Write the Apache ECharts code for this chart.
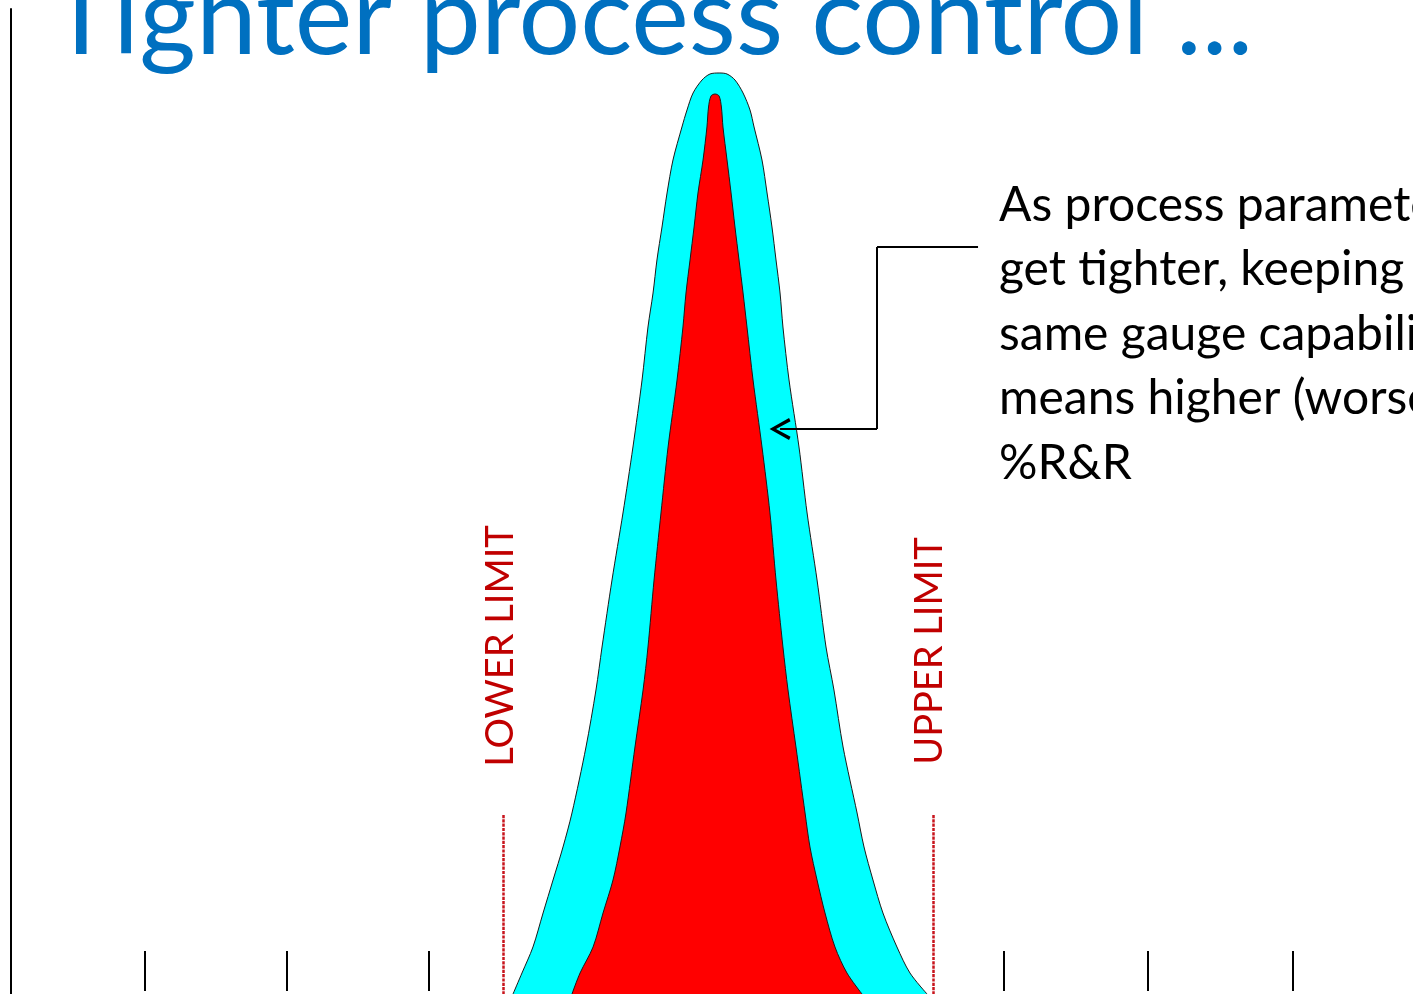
<!DOCTYPE html>
<html lang="en">
<head>
    <meta charset="UTF-8">
    <title>Tighter process control</title>
    <script src="https://cdn.jsdelivr.net/npm/echarts@6/dist/echarts.min.js"></script>
    <style>
        html, body { margin: 0; padding: 0; background: #fff; }
        #main { width: 1413px; height: 994px; }
    </style>
</head>
<body>
    <div id="main"></div>
    <script type="text/javascript">
        // x in sigma-like units (0 = centre tick), y = curve height
        var outerCurve = [
            [-1.384, 0], [-1.322, 2.1], [-1.246, 4.7], [-1.176, 8.1], [-1.107, 11.4],
            [-1.038, 14.7], [-0.976, 18.1], [-0.879, 24.7], [-0.810, 30.4], [-0.768, 34.7],
            [-0.699, 41.4], [-0.623, 48.1], [-0.554, 54.7], [-0.491, 61.4], [-0.450, 66.7],
            [-0.415, 70.1], [-0.388, 73.4], [-0.353, 76.7], [-0.318, 80.1], [-0.277, 83.4],
            [-0.215, 86.7], [-0.180, 88.4], [-0.138, 90.1], [-0.076, 91.4], [-0.021, 92.0],
            [0.042, 92.1], [0.097, 92.0], [0.152, 91.4], [0.208, 90.1], [0.256, 88.4],
            [0.284, 86.7], [0.339, 83.4], [0.374, 80.1], [0.408, 76.7], [0.436, 73.4],
            [0.464, 70.1], [0.484, 66.7], [0.526, 61.4], [0.595, 54.7], [0.651, 48.1],
            [0.720, 41.4], [0.782, 34.7], [0.837, 30.4], [0.900, 24.7], [0.997, 18.1],
            [1.045, 14.7], [1.107, 11.4], [1.176, 8.1], [1.273, 4.7], [1.363, 2.1],
            [1.481, 0]
        ];
        var innerCurve = [
            [-0.976, 0], [-0.920, 2.1], [-0.830, 4.7], [-0.761, 8.1], [-0.692, 11.4],
            [-0.644, 14.7], [-0.602, 18.1], [-0.540, 24.7], [-0.484, 30.4], [-0.450, 34.7],
            [-0.408, 41.4], [-0.360, 48.1], [-0.311, 54.7], [-0.249, 61.4], [-0.208, 66.7],
            [-0.187, 70.1], [-0.159, 73.4], [-0.131, 76.7], [-0.104, 80.1], [-0.069, 83.4],
            [-0.042, 86.7], [-0.031, 88.7], [-0.014, 89.8], [0.014, 90.0], [0.042, 89.8],
            [0.058, 88.7], [0.069, 86.7],
            [0.097, 83.4], [0.125, 80.1], [0.152, 76.7], [0.180, 73.4], [0.208, 70.1],
            [0.235, 66.7], [0.277, 61.4], [0.339, 54.7], [0.394, 48.1], [0.436, 41.4],
            [0.484, 34.7], [0.519, 30.4], [0.574, 24.7], [0.637, 18.1], [0.671, 14.7],
            [0.720, 11.4], [0.775, 8.1], [0.844, 4.7], [0.927, 2.1], [1.031, 0]
        ];
        var tickValues = [-3.93, -2.95, -1.97, -0.99, 0, 1.0, 2.01, 3.01, 4.01];
        var lowerLimit = -1.455;
        var upperLimit = 1.522;
        var limitLineTop = 17.9;
        var limitLabels = [
            { name: 'LOWER LIMIT', coord: [-1.467, 34.8] },
            { name: 'UPPER LIMIT', coord: [1.502, 34.3] }
        ];
        var calloutPath = [[1.834, 74.7], [1.135, 74.7], [1.135, 56.5], [0.464, 56.5]];
        var calloutText = 'As process parameters\nget tighter, keeping the\nsame gauge capability\nmeans higher (worse)\n%R&R';

        // open arrow head, drawn as a filled chevron
        var chevron = 'path://M0,18 L9,0 L18,18 L15.4,19.4 L9,6 L2.6,19.4 Z';

        var calloutLines = [];
        for (var i = 0; i < calloutPath.length - 1; i++) {
            var last = i === calloutPath.length - 2;
            calloutLines.push([
                { coord: calloutPath[i], symbol: 'none' },
                { coord: calloutPath[i + 1], symbol: last ? chevron : 'none' }
            ]);
        }
        var limitLines = [lowerLimit, upperLimit].map(function (x) {
            return [{ coord: [x, limitLineTop] }, { coord: [x, 0] }];
        });

        var myChart = echarts.init(document.getElementById('main'));
        var option = {
            animation: false,
            backgroundColor: '#fff',
            title: {
                text: 'Tighter process control ...',
                left: 44,
                top: -41,
                textStyle: { fontFamily: 'Lato', fontSize: 109, fontWeight: 'normal', color: '#0070C0' }
            },
            grid: { left: 11, right: 0, top: 9, bottom: 0 },
            xAxis: {
                type: 'value',
                min: -4.858,
                max: 4.844,
                offset: -3,
                axisLine: { show: false },
                axisTick: {
                    show: true,
                    inside: true,
                    length: 40,
                    customValues: tickValues,
                    lineStyle: { color: '#000', width: 2 }
                },
                axisLabel: { show: false },
                splitLine: { show: false }
            },
            yAxis: {
                type: 'value',
                min: 0,
                max: 98.5,
                axisLine: { show: true, onZero: false, lineStyle: { color: '#000', width: 2 } },
                axisTick: { show: false },
                axisLabel: { show: false },
                splitLine: { show: false }
            },
            graphic: [{
                type: 'text',
                x: 999,
                y: 173,
                style: {
                    text: calloutText,
                    fontFamily: 'Lato',
                    fontSize: 48,
                    lineHeight: 64.5,
                    fill: '#000',
                    verticalAlign: 'top'
                }
            }],
            series: [
                {
                    name: 'Outer',
                    type: 'line',
                    data: outerCurve,
                    showSymbol: false,
                    smooth: 0.3,
                    lineStyle: { color: '#1a1a1a', width: 1 },
                    areaStyle: { color: '#00ffff', opacity: 1 },
                    markLine: {
                        silent: true,
                        symbol: ['none', 'none'],
                        label: { show: false },
                        // dash lengths get multiplied by the width
                        lineStyle: { color: '#c8141c', width: 2.5, type: [3.2, 1.1] },
                        data: limitLines
                    }
                },
                {
                    name: 'Inner',
                    type: 'line',
                    data: innerCurve,
                    showSymbol: false,
                    smooth: 0.3,
                    lineStyle: { color: '#1a1a1a', width: 1 },
                    areaStyle: { color: '#ff0000', opacity: 1 },
                    markLine: {
                        silent: true,
                        symbol: ['none', 'none'],
                        symbolSize: [22, 21],
                        label: { show: false },
                        lineStyle: { color: '#000', width: 2, type: 'solid' },
                        data: calloutLines
                    },
                    markPoint: {
                        silent: true,
                        symbol: 'circle',
                        symbolSize: 1,
                        itemStyle: { color: 'rgba(0,0,0,0)' },
                        label: {
                            show: true,
                            position: 'inside',
                            rotate: 90,
                            formatter: '{b}',
                            fontFamily: 'Lato',
                            fontSize: 38,
                            color: '#c00000'
                        },
                        data: limitLabels
                    }
                }
            ]
        };
        myChart.setOption(option);
    </script>
</body>
</html>
